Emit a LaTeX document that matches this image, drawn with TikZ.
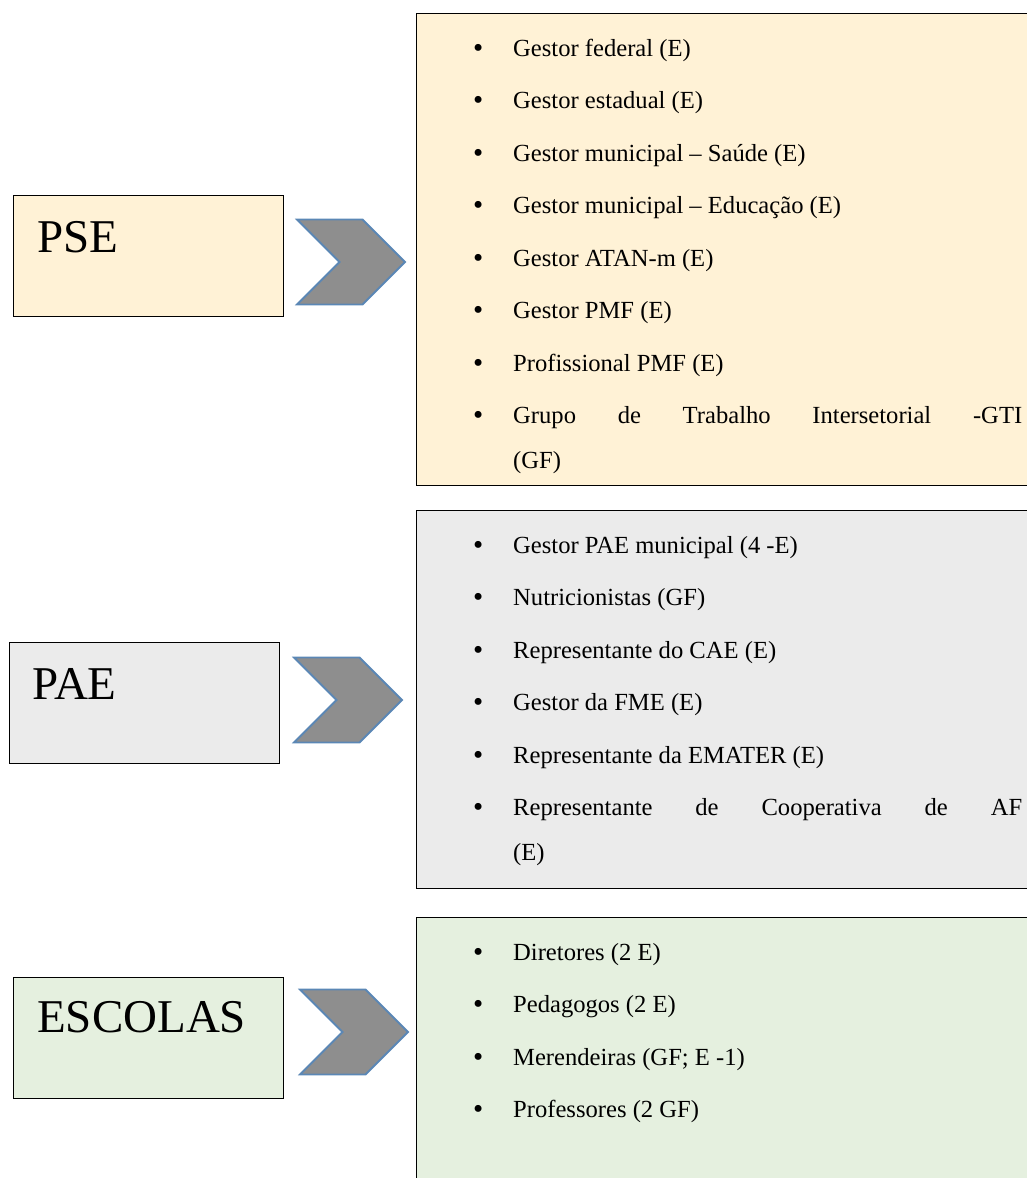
\documentclass[tikz,border=0pt]{standalone}
\usepackage{fontspec}
\setmainfont{Liberation Serif}
\usetikzlibrary{positioning,shapes.symbols,calc}

\definecolor{pseyel}{HTML}{FFF2D6}
\definecolor{paegray}{HTML}{EBEBEB}
\definecolor{escgreen}{HTML}{E5F0DF}
\definecolor{chevgray}{HTML}{8E8E8E}
\definecolor{chevblue}{HTML}{5B87B5}

\tolerance=9999
\hyphenpenalty=10000
\newcommand{\bul}{\llap{\raisebox{-1pt}{\fontsize{29}{29}\selectfont\textbullet}\hspace{30pt}}}

\begin{document}
\begin{tikzpicture}[
    x=1pt, y=-1pt,
    boxbase/.style={draw=black, line width=1.4pt, inner sep=0pt, anchor=north west},
    tagbox/.style={boxbase, minimum width=270pt, minimum height=121pt},
    tagtext/.style={anchor=base west, inner sep=0pt, font=\fontsize{47}{50}\selectfont},
    chev/.style={signal, signal to=east, signal from=west, signal pointer angle=90,
        fill=chevgray, draw=chevblue, line width=1.8pt, minimum width=108pt, minimum height=85pt, inner sep=0pt},
    item/.style={anchor=base west, inner sep=0pt, text width=509pt, align=justify,
        font=\fontsize{24.6}{45}\selectfont},
]
\clip (0,0) rectangle (1027,1178);

% left column
\node[tagbox, fill=pseyel]   (pse) at (13,195) {};
\node[tagbox, fill=paegray]  (pae) at (9,642) {};
\node[tagbox, fill=escgreen] (esc) at (13,977) {};
\node[tagtext] (pselbl) at ($(pse.north west)+(24,57)$) {PSE};
\node[tagtext] (paelbl) at ($(pae.north west)+(23,57)$) {PAE};
\node[tagtext] (esclbl) at ($(esc.north west)+(24,55)$) {ESCOLAS};

\node[chev] (psechev) at (351,262) {};
\node[chev] (paechev) at (348,700) {};
\node[chev] (escchev) at (354,1032) {};

% right column
\node[boxbase, fill=pseyel,   minimum width=640pt, minimum height=472pt] (pselist) at (416,13) {};
\node[boxbase, fill=paegray,  minimum width=640pt, minimum height=378pt] (paelist) at (416,510) {};
\node[boxbase, fill=escgreen, minimum width=640pt, minimum height=290pt] (esclist) at (416,917) {};

\foreach \txt [count=\i from 0] in {Gestor federal (E), Gestor estadual (E),
    Gestor municipal – Saúde (E), Gestor municipal – Educação (E), Gestor ATAN-m (E),
    Gestor PMF (E), Profissional PMF (E), Grupo de Trabalho Intersetorial -GTI\linebreak (GF)}
  \node[item] (pse\i) at (513,{56+52.5*\i}) {\bul\txt};

\foreach \txt [count=\i from 0] in {Gestor PAE municipal (4 -E), Nutricionistas (GF),
    Representante do CAE (E), Gestor da FME (E), Representante da EMATER (E),
    Representante de Cooperativa de AF\linebreak (E)}
  \node[item] (pae\i) at (513,{553+52.5*\i}) {\bul\txt};

\foreach \txt [count=\i from 0] in {Diretores (2 E), Pedagogos (2 E),
    Merendeiras (GF; E -1), Professores (2 GF)}
  \node[item] (esc\i) at (513,{960+52.5*\i}) {\bul\txt};
\end{tikzpicture}
\end{document}
